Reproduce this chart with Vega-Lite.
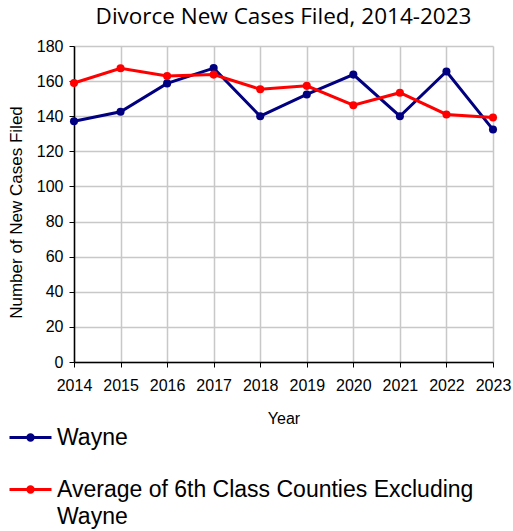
{
  "$schema": "https://vega.github.io/schema/vega-lite/v6.json",
  "width": 419,
  "height": 316,
  "autosize": {"type": "none"},
  "padding": {"left": 74, "top": 46, "right": 20, "bottom": 169},
  "background": "white",
  "config": {
    "font": "Liberation Sans",
    "view": {"stroke": null}
  },
  "title": {
    "text": "Divorce New Cases Filed, 2014-2023",
    "fontSize": 22.5,
    "fontWeight": "normal",
    "font": "Open Sans",
    "color": "black",
    "anchor": "middle",
    "offset": 10
  },
  "data": {
    "values": [
      {"Year": "2014", "Series": "Wayne", "Cases": 137.1},
      {"Year": "2015", "Series": "Wayne", "Cases": 142.5},
      {"Year": "2016", "Series": "Wayne", "Cases": 158.7},
      {"Year": "2017", "Series": "Wayne", "Cases": 167.4},
      {"Year": "2018", "Series": "Wayne", "Cases": 140},
      {"Year": "2019", "Series": "Wayne", "Cases": 152.4},
      {"Year": "2020", "Series": "Wayne", "Cases": 163.7},
      {"Year": "2021", "Series": "Wayne", "Cases": 140},
      {"Year": "2022", "Series": "Wayne", "Cases": 165.5},
      {"Year": "2023", "Series": "Wayne", "Cases": 132.4},
      {"Year": "2014", "Series": "Average of 6th Class Counties Excluding Wayne", "Cases": 158.9},
      {"Year": "2015", "Series": "Average of 6th Class Counties Excluding Wayne", "Cases": 167.3},
      {"Year": "2016", "Series": "Average of 6th Class Counties Excluding Wayne", "Cases": 162.9},
      {"Year": "2017", "Series": "Average of 6th Class Counties Excluding Wayne", "Cases": 163.7},
      {"Year": "2018", "Series": "Average of 6th Class Counties Excluding Wayne", "Cases": 155.4},
      {"Year": "2019", "Series": "Average of 6th Class Counties Excluding Wayne", "Cases": 157.3},
      {"Year": "2020", "Series": "Average of 6th Class Counties Excluding Wayne", "Cases": 146.3},
      {"Year": "2021", "Series": "Average of 6th Class Counties Excluding Wayne", "Cases": 153.4},
      {"Year": "2022", "Series": "Average of 6th Class Counties Excluding Wayne", "Cases": 141},
      {"Year": "2023", "Series": "Average of 6th Class Counties Excluding Wayne", "Cases": 139.3}
    ]
  },
  "mark": {"type": "line", "strokeWidth": 3, "point": {"filled": true, "size": 65}},
  "encoding": {
    "x": {
      "field": "Year",
      "type": "ordinal",
      "scale": {"type": "point", "padding": 0},
      "axis": {
        "title": "Year",
        "titleFontSize": 16,
        "titleFontWeight": "normal",
        "titleColor": "black",
        "titlePadding": 17,
        "labelAngle": 0,
        "labelFontSize": 16,
        "labelColor": "black",
        "labelPadding": 10,
        "domainColor": "black",
        "domainWidth": 1.5,
        "tickColor": "black",
        "tickSize": 5,
        "grid": true,
        "gridColor": "#c8c8c8",
        "gridWidth": 1.5
      }
    },
    "y": {
      "field": "Cases",
      "type": "quantitative",
      "scale": {"domain": [0, 180], "nice": false},
      "axis": {
        "title": "Number of New Cases Filed",
        "titleY": 166,
        "values": [0, 20, 40, 60, 80, 100, 120, 140, 160, 180],
        "titleFontSize": 17,
        "titleFontWeight": "normal",
        "titleColor": "black",
        "titlePadding": 11,
        "labelFontSize": 16,
        "labelColor": "black",
        "labelPadding": 6,
        "domainColor": "black",
        "domainWidth": 1.5,
        "tickColor": "black",
        "tickSize": 5,
        "grid": true,
        "gridColor": "#c8c8c8",
        "gridWidth": 1.5
      }
    },
    "color": {
      "field": "Series",
      "type": "nominal",
      "scale": {
        "domain": ["Wayne", "Average of 6th Class Counties Excluding Wayne"],
        "range": ["#000080", "#ff0000"]
      },
      "legend": {
        "title": null,
        "orient": "none",
        "legendX": -66,
        "legendY": 369,
        "direction": "vertical",
        "labelFontSize": 23,
        "labelColor": "black",
        "labelLimit": 500,
        "labelExpr": "datum.label == 'Wayne' ? 'Wayne' : ['Average of 6th Class Counties Excluding', 'Wayne']",
        "symbolType": "M-1,0H1M-0.13,0A0.13,0.13,0,1,0,0.13,0A0.13,0.13,0,1,0,-0.13,0",
        "symbolSize": 1764,
        "symbolStrokeWidth": 3,
        "rowPadding": 17,
        "labelOffset": 4,
        "encode": {"labels": {"update": {"lineHeight": {"value": 27}}}}
      }
    }
  }
}
